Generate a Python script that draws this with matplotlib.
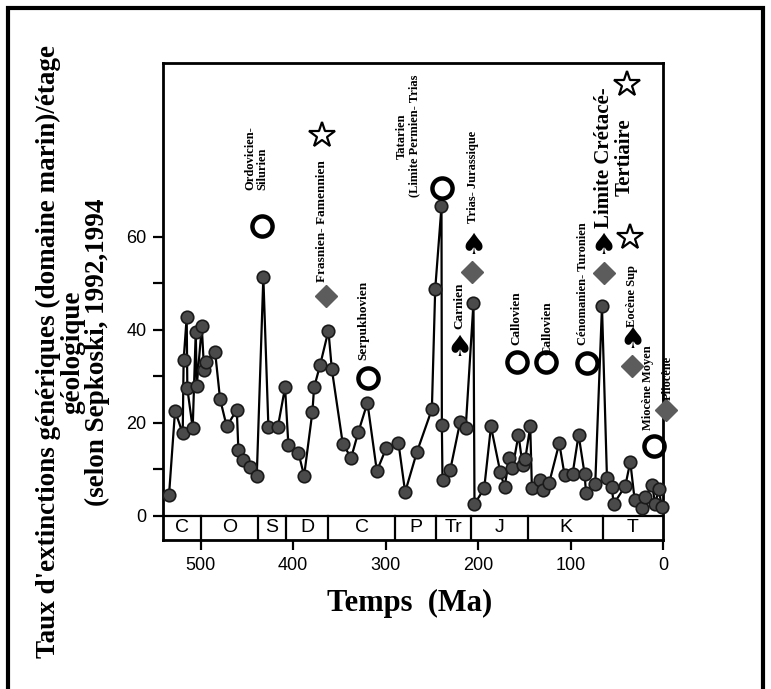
import matplotlib
matplotlib.use("Agg")
import matplotlib.pyplot as plt
from matplotlib.patches import Rectangle

# ---------------- data ----------------
age_ma = [534.3, 527.8, 519.5, 518.5, 515.2, 514.5, 508.7, 505.4, 504.3, 498.9,
          496.4, 494.6, 484.5, 479.1, 471.9, 461.0, 459.3, 453.9, 446.6, 439.4,
          432.3, 426.8, 416.7, 408.8, 405.2, 394.4, 388.2, 379.2, 377.4, 370.9,
          361.9, 358.2, 346.3, 337.3, 329.4, 319.7, 309.5, 299.5, 286.1, 278.9,
          266.2, 250.0, 246.4, 239.6, 239.2, 238.5, 230.2, 219.4, 213.4, 205.0,
          203.9, 193.4, 186.1, 176.1, 171.4, 166.3, 162.8, 156.3, 151.9, 149.0,
          143.6, 141.8, 132.8, 130.3, 123.1, 112.2, 106.5, 97.8, 91.3, 84.8,
          83.3, 73.3, 66.0, 60.6, 55.2, 53.5, 40.8, 35.4, 30.7, 22.7,
          19.2, 11.9, 8.3, 4.8, 1.1]
extinction_rate = [4.5, 22.6, 17.7, 33.5, 42.7, 27.4, 18.8, 39.6, 27.9, 40.7,
                   31.4, 33.1, 35.3, 25.1, 19.2, 22.8, 14.2, 12.0, 10.4, 8.6,
                   51.3, 19.0, 19.0, 27.6, 15.2, 13.6, 8.6, 22.4, 27.6, 32.4,
                   39.8, 31.5, 15.4, 12.5, 18.1, 24.3, 9.6, 14.5, 15.6, 5.1,
                   13.7, 22.9, 48.7, 66.5, 19.5, 7.7, 9.8, 20.2, 18.9, 45.8,
                   2.5, 5.9, 19.2, 9.5, 6.1, 12.4, 10.2, 17.4, 10.9, 12.2,
                   19.2, 5.9, 7.7, 5.5, 7.1, 15.6, 8.8, 9.0, 17.4, 9.0,
                   5.0, 6.8, 45.0, 8.1, 6.1, 2.5, 6.4, 11.6, 3.5, 1.6,
                   4.1, 6.6, 2.5, 5.7, 2.0]

period_bounds = [540.5, 500, 438, 408, 362, 290, 245, 208, 146, 65, 0]
period_labels = ["C", "O", "S", "D", "C", "P", "Tr", "J", "K", "T"]

x_ticks = [500, 400, 300, 200, 100, 0]
x_tick_labels = ["500", "400", "300", "200", "100", "0"]
y_ticks = [0, 10, 20, 30, 40, 50, 60]
y_tick_labels = ["0", "", "20", "", "40", "", "60"]

circle_ma = [434.0, 318.6, 238.9, 157.7, 126.3, 82.3, 10.2]
circle_val = [62.2, 29.6, 70.5, 33.1, 33.1, 32.8, 15.0]
star_ma = [369.0, 39.0, 35.4]
star_val = [81.9, 92.9, 60.0]
spade_ma = [205.0, 220.5, 64.3, 33.5]
spade_val = [57.9, 36.1, 57.9, 37.8]
diamond_ma = [364.7, 206.7, 64.3, 33.5, -3.6]
diamond_val = [47.3, 52.5, 52.3, 32.2, 22.8]

# (text, age, value, fontsize, vertical anchor, multialignment)
event_labels = [
    ("Ordovicien-\nSilurien", 440.2, 70.1, 9, "bottom", "left"),
    ("Frasnien- Famennien", 368.7, 50.3, 9.5, "bottom", "left"),
    ("Serpukhovien", 324.0, 33.5, 9.5, "bottom", "left"),
    ("Tatarien\n(Limite Permien- Trias", 276.0, 81.6, 9, "center", "center"),
    ("Trias- Jurassique", 205.0, 63.0, 9, "bottom", "left"),
    ("Carnien", 220.5, 40.2, 9.5, "bottom", "left"),
    ("Callovien", 158.8, 36.7, 9.5, "bottom", "left"),
    ("Callovien", 125.2, 34.6, 9.5, "bottom", "left"),
    ("Cénomanien- Turonien", 86.3, 36.7, 9, "bottom", "left"),
    ("Limite Crétacé-\nTertiaire", 52.7, 77.0, 15, "center", "center"),
    ("Eocène Sup", 33.2, 40.6, 9, "bottom", "left"),
    ("Miocène Moyen", 15.9, 18.4, 9, "bottom", "left"),
    ("Pliocène", -5.7, 24.9, 9, "bottom", "left"),
]

y_label = "Taux d'extinctions génériques (domaine marin)/étage\ngéologique\n(selon Sepkoski, 1992,1994"
x_label = "Temps  (Ma)"

# ---------------- figure ----------------
SERIF = "Liberation Serif"
SANS = "Liberation Sans"
W, H = 771, 689
fig = plt.figure(figsize=(W / 100, H / 100), dpi=100)
fig.patch.set_facecolor("white")

# outer frame
fig.patches.append(Rectangle((8 / W, -0.02), (763 - 8) / W, 1 - 8 / H + 0.02,
                             transform=fig.transFigure, fill=False,
                             edgecolor="black", linewidth=3))

left, right, top, bottom = 163.3, 663.0, 62.7, 540.0
ax = fig.add_axes([left / W, 1 - bottom / H, (right - left) / W, (bottom - top) / H])
ax.set_xlim(period_bounds[0], 0)
ymin, ymax = -5.2, 97.4
ax.set_ylim(ymin, ymax)

for s in ax.spines.values():
    s.set_linewidth(2)

# period strip
ax.axhline(0, color="black", lw=1.6, zorder=2)
for b in period_bounds[1:-1]:
    ax.plot([b, b], [ymin, 0], color="black", lw=1.6, zorder=2)
for i, lab in enumerate(period_labels):
    mid = (period_bounds[i] + period_bounds[i + 1]) / 2
    ax.text(mid, ymin / 2, lab, ha="center", va="center", fontsize=14,
            family=SANS)

# data series
ax.plot(age_ma, extinction_rate, color="black", lw=1.6, marker="o", ms=9,
        mfc="#4a4a4a", mec="#1a1a1a", mew=1.2, zorder=4, clip_on=False)

# event markers
ax.plot(circle_ma, circle_val, ls="none", marker="o", ms=14.5, mfc="none",
        mec="black", mew=3.2, zorder=5, clip_on=False)
ax.plot(star_ma, star_val, ls="none", marker="*", ms=19, mfc="white",
        mec="black", mew=1.6, zorder=5, clip_on=False)
ax.plot(diamond_ma, diamond_val, ls="none", marker="D", ms=11, mfc="#5c5c5c",
        mec="#5c5c5c", mew=1, zorder=5, clip_on=False)
for m, v in zip(spade_ma, spade_val):
    ax.text(m, v, "\u2660", ha="center", va="center", fontsize=21,
            family="DejaVu Sans", color="black", zorder=5, clip_on=False)

for txt, m, v, fs, va, ma in event_labels:
    ax.text(m, v, txt, rotation=90, ha="center", va=va, multialignment=ma,
            fontsize=fs, family=SERIF, fontweight="bold", linespacing=1.0,
            zorder=6, clip_on=False)

# ticks
ax.set_xticks(x_ticks)
ax.set_xticklabels(x_tick_labels, family=SANS, fontsize=13)
ax.set_yticks(y_ticks)
ax.set_yticklabels(y_tick_labels, family=SANS, fontsize=13)
ax.tick_params(axis="both", direction="out", length=7, width=1.6, pad=5)

fig.text(410 / W, 1 - 603 / H, x_label, ha="center", va="center", fontsize=22,
         family=SERIF, fontweight="bold")
fig.text(73 / W, 1 - 352 / H, y_label, rotation=90, ha="center", va="center",
         multialignment="center", fontsize=19.5, family=SERIF, fontweight="bold",
         linespacing=0.95)

fig.savefig("out.png", dpi=100, facecolor="white")
